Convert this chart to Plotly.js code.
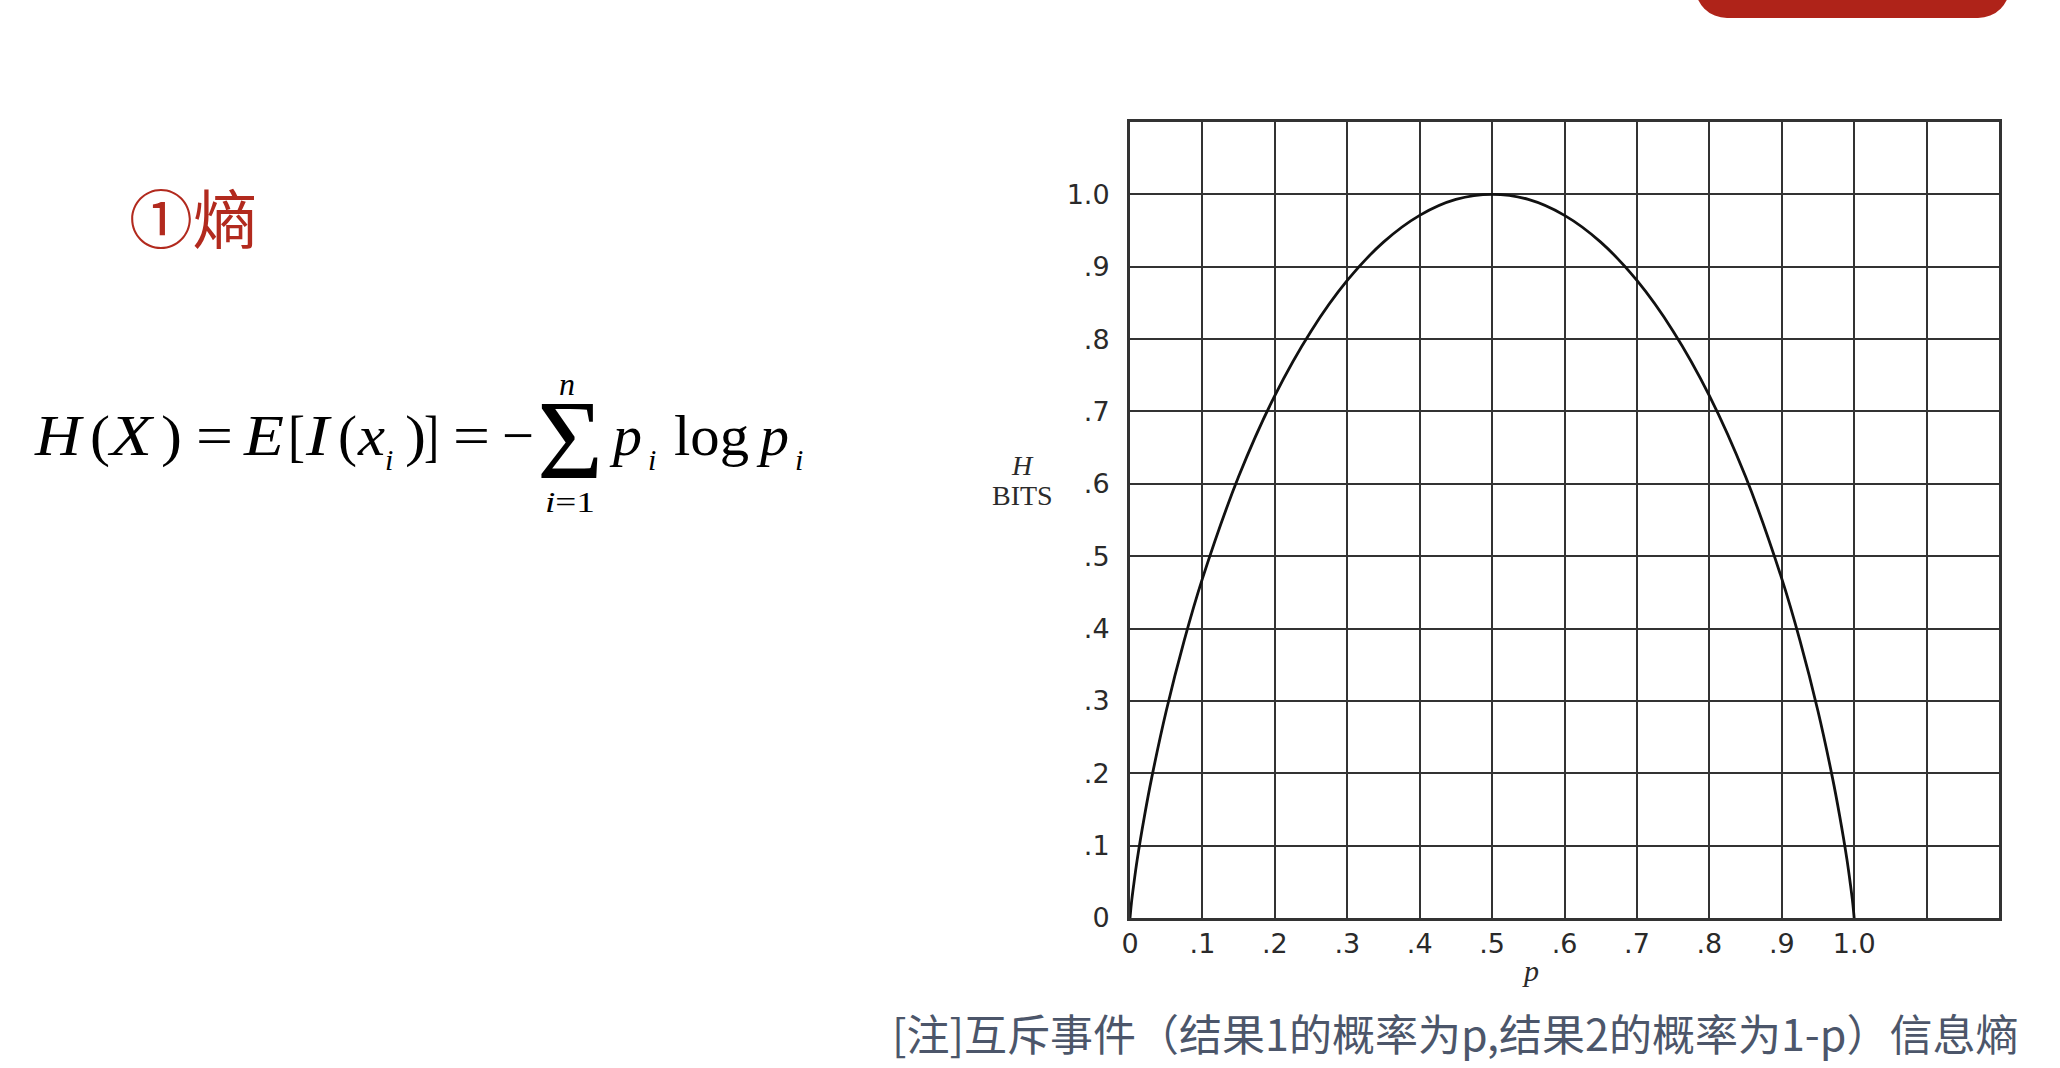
<!DOCTYPE html>
<html>
<head>
<meta charset="utf-8">
<script src="https://cdn.plot.ly/plotly-3.0.1.min.js"></script>
<style>
  html, body { margin: 0; padding: 0; background: #ffffff; width: 2060px; height: 1068px; overflow: hidden; }
  #chart { position: absolute; left: 0; top: 0; width: 2060px; height: 1068px; }
  #overlay { position: absolute; left: 0; top: 0; width: 2060px; height: 1068px; pointer-events: none; }
  #redbar { position: absolute; left: 1695px; top: -20px; width: 315px; height: 38px; background: #AF2319; border-radius: 0 0 32px 32px; }
</style>
</head>
<body>
<div id="chart"></div>
<div id="redbar"></div>
<svg id="overlay" xmlns="http://www.w3.org/2000/svg" width="2060" height="1068"
     font-family="'Liberation Serif', 'Times New Roman', serif" fill="#000">
  <text x="35" y="455" font-size="58" font-style="italic" textLength="46" lengthAdjust="spacingAndGlyphs">H</text>
  <text x="90" y="455" font-size="58" textLength="20" lengthAdjust="spacingAndGlyphs">(</text>
  <text x="110" y="455" font-size="58" font-style="italic" textLength="42" lengthAdjust="spacingAndGlyphs">X</text>
  <text x="161" y="455" font-size="58" textLength="21" lengthAdjust="spacingAndGlyphs">)</text>
  <text x="196" y="455" font-size="58" textLength="37" lengthAdjust="spacingAndGlyphs">=</text>
  <text x="244" y="455" font-size="58" font-style="italic" textLength="40" lengthAdjust="spacingAndGlyphs">E</text>
  <text x="288" y="455" font-size="58" textLength="17" lengthAdjust="spacingAndGlyphs">[</text>
  <text x="306" y="455" font-size="58" font-style="italic" textLength="23" lengthAdjust="spacingAndGlyphs">I</text>
  <text x="338" y="455" font-size="58" textLength="19" lengthAdjust="spacingAndGlyphs">(</text>
  <text x="358" y="455" font-size="58" font-style="italic" textLength="27" lengthAdjust="spacingAndGlyphs">x</text>
  <text x="385" y="470" font-size="30" font-style="italic">i</text>
  <text x="405" y="455" font-size="58" textLength="21" lengthAdjust="spacingAndGlyphs">)</text>
  <text x="424" y="455" font-size="58" textLength="15" lengthAdjust="spacingAndGlyphs">]</text>
  <text x="453" y="455" font-size="58" textLength="37" lengthAdjust="spacingAndGlyphs">=</text>
  <text x="502" y="455" font-size="58" textLength="32" lengthAdjust="spacingAndGlyphs">−</text>
  <text x="537" y="478" font-size="112" textLength="66" lengthAdjust="spacingAndGlyphs">Σ</text>
  <text x="559" y="395" font-size="32" font-style="italic">n</text>
  <text x="545" y="512" font-size="30" textLength="50" lengthAdjust="spacingAndGlyphs"><tspan font-style="italic">i</tspan>=1</text>
  <text x="613" y="455" font-size="58" font-style="italic" textLength="29" lengthAdjust="spacingAndGlyphs">p</text>
  <text x="648" y="470" font-size="30" font-style="italic">i</text>
  <text x="674" y="455" font-size="58" textLength="75" lengthAdjust="spacingAndGlyphs">log</text>
  <text x="760" y="455" font-size="58" font-style="italic" textLength="29" lengthAdjust="spacingAndGlyphs">p</text>
  <text x="795" y="470" font-size="30" font-style="italic">i</text>
</svg>
<script>
// ---- data ----
const pValues = [0, 0.002, 0.005, 0.01, 0.02, 0.03, 0.05, 0.075, 0.1, 0.15, 0.2, 0.25, 0.3, 0.35, 0.4, 0.45, 0.5,
                 0.55, 0.6, 0.65, 0.7, 0.75, 0.8, 0.85, 0.9, 0.925, 0.95, 0.97, 0.98, 0.99, 0.995, 0.998, 1.0];
const hBits   = [0, 0.021, 0.045, 0.081, 0.141, 0.194, 0.286, 0.384, 0.469, 0.610, 0.722, 0.811, 0.881, 0.934, 0.971, 0.993, 1.0,
                 0.993, 0.971, 0.934, 0.881, 0.811, 0.722, 0.610, 0.469, 0.384, 0.286, 0.194, 0.141, 0.081, 0.045, 0.021, 0];
const xTickVals  = [0, 0.1, 0.2, 0.3, 0.4, 0.5, 0.6, 0.7, 0.8, 0.9, 1.0, 1.1, 1.2];
const xTickText  = ['0', '.1', '.2', '.3', '.4', '.5', '.6', '.7', '.8', '.9', '1.0', '', ''];
const yTickVals  = [0, 0.1, 0.2, 0.3, 0.4, 0.5, 0.6, 0.7, 0.8, 0.9, 1.0, 1.1];
const yTickText  = ['0', '.1', '.2', '.3', '.4', '.5', '.6', '.7', '.8', '.9', '1.0', ''];
const titleText = '①熵';
const noteText = '[注]互斥事件（结果1的概率为p,结果2的概率为1-p）信息熵';
const yLabelTop = 'H';
const yLabelBottom = 'BITS';
const xLabel = 'p';

// ---- layout geometry (pixels) ----
const W = 2060, Hh = 1068;
const L = 1130, R = 61, T = 122, B = 150;
const pw = W - L - R, ph = Hh - T - B;
const px = v => (v - L) / pw;
const py = v => (Hh - B - v) / ph;

const gridColor = '#333333';
const tickFont = { family: 'DejaVu Sans, sans-serif', size: 27, color: '#2a2a2a' };

const trace = {
  x: pValues, y: hBits, type: 'scatter', mode: 'lines',
  line: { color: '#111111', width: 2.8, shape: 'spline', smoothing: 1 },
  hoverinfo: 'skip', showlegend: false
};

const layout = {
  width: W, height: Hh,
  margin: { l: L, r: R, t: T, b: B, pad: 0 },
  paper_bgcolor: 'rgba(0,0,0,0)', plot_bgcolor: '#ffffff',
  showlegend: false,
  xaxis: {
    range: [0, 1.2], tickvals: xTickVals, ticktext: xTickText, tickmode: 'array',
    showgrid: true, gridcolor: gridColor, gridwidth: 2,
    showline: true, mirror: true, linecolor: gridColor, linewidth: 3,
    zeroline: false, ticks: '', tickfont: tickFont, ticklabelstandoff: 0, fixedrange: true
  },
  yaxis: {
    range: [0, 1.1], tickvals: yTickVals, ticktext: yTickText, tickmode: 'array',
    showgrid: true, gridcolor: gridColor, gridwidth: 2,
    showline: true, mirror: true, linecolor: gridColor, linewidth: 3,
    zeroline: false, ticks: '', tickfont: tickFont, ticklabelstandoff: 12, fixedrange: true
  },
  annotations: [
    { text: titleText, xref: 'paper', yref: 'paper', x: px(193), y: py(215), xanchor: 'center', yanchor: 'middle',
      showarrow: false, font: { family: 'Noto Sans CJK SC, sans-serif', size: 64, color: '#B22A1E' } },
    { text: noteText, xref: 'paper', yref: 'paper', x: px(1455), y: py(1032), xanchor: 'center', yanchor: 'middle',
      showarrow: false, font: { family: 'Noto Sans CJK SC, sans-serif', size: 43, color: '#4c566a' } },
    { text: '<i>' + yLabelTop + '</i>', xref: 'paper', yref: 'paper', x: px(1022), y: py(465), xanchor: 'center', yanchor: 'middle',
      showarrow: false, font: { family: 'Liberation Serif, serif', size: 28, color: '#2a2a2a' } },
    { text: yLabelBottom, xref: 'paper', yref: 'paper', x: px(1022), y: py(495), xanchor: 'center', yanchor: 'middle',
      showarrow: false, font: { family: 'Liberation Serif, serif', size: 28, color: '#2a2a2a' } },
    { text: '<i>' + xLabel + '</i>', xref: 'paper', yref: 'paper', x: px(1530), y: py(971), xanchor: 'center', yanchor: 'middle',
      showarrow: false, font: { family: 'Liberation Serif, serif', size: 30, color: '#2a2a2a' } }
  ]
};

Plotly.newPlot('chart', [trace], layout, { displayModeBar: false, staticPlot: true });
</script>
</body>
</html>
